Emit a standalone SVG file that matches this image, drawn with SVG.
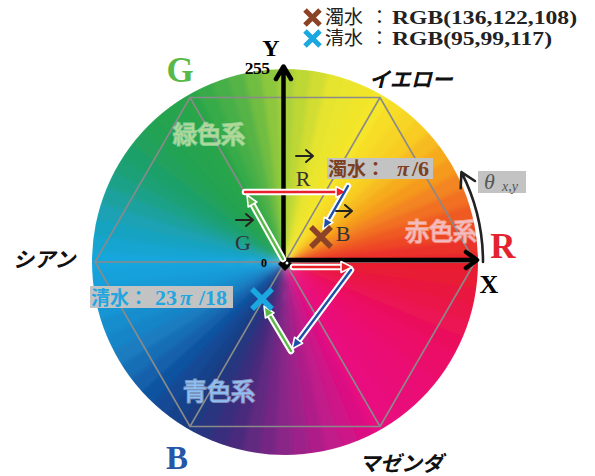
<svg xmlns="http://www.w3.org/2000/svg" xmlns:xlink="http://www.w3.org/1999/xlink" width="595" height="476" viewBox="0 0 595 476">
<style>
.hex{fill:none;stroke:#8a8a8a;stroke-width:1.6;stroke-linejoin:round}
.axis{fill:none;stroke:#000;stroke-width:4.5;stroke-linecap:round;stroke-linejoin:round}
.halo{fill:none;stroke:#fff;stroke-width:6.5;stroke-linecap:round;stroke-linejoin:round}
.shaft{fill:none;stroke-width:2.4;stroke-linecap:round}
.hw{stroke:#fff;stroke-width:1.6;stroke-linejoin:round}
.vec{fill:none;stroke:#222;stroke-width:2;stroke-linecap:round;stroke-linejoin:round}
.serif{font-family:"Liberation Serif","DejaVu Serif",serif}
.bold{font-weight:700}
.jp{font-family:"Noto Sans CJK JP","Noto Sans CJK SC",sans-serif}
.kana{font-family:"Noto Sans CJK JP",sans-serif;font-weight:700;font-style:italic;font-size:21px;fill:#111}
.region{font-family:"Noto Sans CJK JP",sans-serif;font-size:24px;stroke:#fff;stroke-opacity:.45;stroke-width:2;paint-order:stroke}
.box{fill:#c3c3c3}
</style>
<defs>
<path id="w" d="M285 262L481.8 271.6A197 197 0 0 0 481.8 252.4Z"/>
<clipPath id="disc"><circle cx="285" cy="262" r="193"/></clipPath>
<filter id="soft" x="-5%" y="-5%" width="110%" height="110%"><feGaussianBlur stdDeviation="2"/></filter>
</defs>
<g id="wheel" clip-path="url(#disc)">
<g filter="url(#soft)">
<use href="#w" transform="rotate(0 285 262)" fill="#e81e2c"/>
<use href="#w" transform="rotate(-5 285 262)" fill="#ea3229"/>
<use href="#w" transform="rotate(-10 285 262)" fill="#ed4627"/>
<use href="#w" transform="rotate(-15 285 262)" fill="#ef5a24"/>
<use href="#w" transform="rotate(-20 285 262)" fill="#f16f22"/>
<use href="#w" transform="rotate(-25 285 262)" fill="#f38520"/>
<use href="#w" transform="rotate(-30 285 262)" fill="#f59a1e"/>
<use href="#w" transform="rotate(-35 285 262)" fill="#f6ab1f"/>
<use href="#w" transform="rotate(-40 285 262)" fill="#f7bb21"/>
<use href="#w" transform="rotate(-45 285 262)" fill="#f8cc22"/>
<use href="#w" transform="rotate(-50 285 262)" fill="#f7d525"/>
<use href="#w" transform="rotate(-55 285 262)" fill="#f7dd28"/>
<use href="#w" transform="rotate(-60 285 262)" fill="#f6e62a"/>
<use href="#w" transform="rotate(-65 285 262)" fill="#f1e52b"/>
<use href="#w" transform="rotate(-70 285 262)" fill="#ebe52d"/>
<use href="#w" transform="rotate(-75 285 262)" fill="#e6e42e"/>
<use href="#w" transform="rotate(-80 285 262)" fill="#d1dd32"/>
<use href="#w" transform="rotate(-85 285 262)" fill="#bdd736"/>
<use href="#w" transform="rotate(-90 285 262)" fill="#a8d03a"/>
<use href="#w" transform="rotate(-95 285 262)" fill="#8dc73e"/>
<use href="#w" transform="rotate(-100 285 262)" fill="#71bd42"/>
<use href="#w" transform="rotate(-105 285 262)" fill="#56b446"/>
<use href="#w" transform="rotate(-110 285 262)" fill="#47af47"/>
<use href="#w" transform="rotate(-115 285 262)" fill="#39ab49"/>
<use href="#w" transform="rotate(-120 285 262)" fill="#2aa64a"/>
<use href="#w" transform="rotate(-125 285 262)" fill="#27a54d"/>
<use href="#w" transform="rotate(-130 285 262)" fill="#25a34f"/>
<use href="#w" transform="rotate(-135 285 262)" fill="#22a252"/>
<use href="#w" transform="rotate(-140 285 262)" fill="#21a15d"/>
<use href="#w" transform="rotate(-145 285 262)" fill="#1fa069"/>
<use href="#w" transform="rotate(-150 285 262)" fill="#1ea074"/>
<use href="#w" transform="rotate(-155 285 262)" fill="#1da189"/>
<use href="#w" transform="rotate(-160 285 262)" fill="#1ba19f"/>
<use href="#w" transform="rotate(-165 285 262)" fill="#1aa2b4"/>
<use href="#w" transform="rotate(-170 285 262)" fill="#19a3c2"/>
<use href="#w" transform="rotate(-175 285 262)" fill="#17a5d0"/>
<use href="#w" transform="rotate(-180 285 262)" fill="#16a6de"/>
<use href="#w" transform="rotate(-185 285 262)" fill="#17a1db"/>
<use href="#w" transform="rotate(-190 285 262)" fill="#179bd7"/>
<use href="#w" transform="rotate(-195 285 262)" fill="#1896d4"/>
<use href="#w" transform="rotate(-200 285 262)" fill="#198dcd"/>
<use href="#w" transform="rotate(-205 285 262)" fill="#1985c7"/>
<use href="#w" transform="rotate(-210 285 262)" fill="#1a7cc0"/>
<use href="#w" transform="rotate(-215 285 262)" fill="#176eb5"/>
<use href="#w" transform="rotate(-220 285 262)" fill="#1360ab"/>
<use href="#w" transform="rotate(-225 285 262)" fill="#1052a0"/>
<use href="#w" transform="rotate(-230 285 262)" fill="#144a95"/>
<use href="#w" transform="rotate(-235 285 262)" fill="#18428b"/>
<use href="#w" transform="rotate(-240 285 262)" fill="#1c3a80"/>
<use href="#w" transform="rotate(-245 285 262)" fill="#2b347f"/>
<use href="#w" transform="rotate(-250 285 262)" fill="#392f7d"/>
<use href="#w" transform="rotate(-255 285 262)" fill="#48297c"/>
<use href="#w" transform="rotate(-260 285 262)" fill="#5e2980"/>
<use href="#w" transform="rotate(-265 285 262)" fill="#742884"/>
<use href="#w" transform="rotate(-270 285 262)" fill="#8a2888"/>
<use href="#w" transform="rotate(-275 285 262)" fill="#9c2389"/>
<use href="#w" transform="rotate(-280 285 262)" fill="#ae1f89"/>
<use href="#w" transform="rotate(-285 285 262)" fill="#c01a8a"/>
<use href="#w" transform="rotate(-290 285 262)" fill="#cd1587"/>
<use href="#w" transform="rotate(-295 285 262)" fill="#db0f83"/>
<use href="#w" transform="rotate(-300 285 262)" fill="#e80a80"/>
<use href="#w" transform="rotate(-305 285 262)" fill="#e90a7d"/>
<use href="#w" transform="rotate(-310 285 262)" fill="#e90a79"/>
<use href="#w" transform="rotate(-315 285 262)" fill="#ea0a76"/>
<use href="#w" transform="rotate(-320 285 262)" fill="#eb0b71"/>
<use href="#w" transform="rotate(-325 285 262)" fill="#eb0d6b"/>
<use href="#w" transform="rotate(-330 285 262)" fill="#ec0e66"/>
<use href="#w" transform="rotate(-335 285 262)" fill="#eb115d"/>
<use href="#w" transform="rotate(-340 285 262)" fill="#eb1353"/>
<use href="#w" transform="rotate(-345 285 262)" fill="#ea164a"/>
<use href="#w" transform="rotate(-350 285 262)" fill="#e91940"/>
<use href="#w" transform="rotate(-355 285 262)" fill="#e91b36"/>
</g>
</g>
<g id="hexagon">
<polygon class="hex" points="475,262 380,97.5 190,97.5 95,262 190,426.5 380,426.5"/>
<path class="hex" d="M95 262H475M190 97.5L380 426.5M380 97.5L190 426.5"/>
</g>
<g id="region-labels">
<text id="midori" class="region" x="173" y="143" fill="#b2da94">緑色系</text>
<text id="aka" class="region" x="405" y="240" fill="#f2bcc4">赤色系</text>
<text id="ao" class="region" x="183" y="400" fill="#8cc0f4">青色系</text>
</g>
<g id="axes">
<path class="axis" d="M283.5 262V68M276 79L283.5 66.5L291 79"/>
<path class="axis" d="M283 260H475M466 252L477 260L466 268"/>
<polygon points="278,264 285,257 292,264 285,271" fill="#000"/>
<circle cx="287" cy="263" r="1.5" fill="#fff"/>
</g>
<g id="connectors">
<path class="halo" d="M283 259L252.5 204.5M245 192H336M348 186L328.5 219.8M293 267H341M351 270L298.6 340.2M291 351L269.7 315.4"/>
<path class="shaft" stroke="#5cb848" d="M283 259L252.5 204.5"/>
<polygon class="hw" fill="#5cb848" points="247,195 256.8,202 248.2,207"/>
<path class="shaft" stroke="#e8202a" d="M245 192H336"/>
<polygon class="hw" fill="#e8202a" points="347,192 336,186.5 336,197.5"/>
<path class="shaft" stroke="#1e4fa8" d="M348 186L328.5 219.8"/>
<polygon class="hw" fill="#1e4fa8" points="323,229.3 324.2,217.3 332.8,222.3"/>
<path class="shaft" stroke="#e8202a" d="M293 267H341"/>
<polygon class="hw" fill="#e8202a" points="352,267 341,261.5 341,272.5"/>
<path class="shaft" stroke="#1e4fa8" d="M351 270L298.6 340.2"/>
<polygon class="hw" fill="#1e4fa8" points="292,349 294.6,337.2 302.6,343.2"/>
<path class="shaft" stroke="#5cb848" d="M291 351L269.7 315.4"/>
<polygon class="hw" fill="#5cb848" points="264,306 274,312.9 265.4,318"/>
<path fill="none" stroke="#222" stroke-width="2.6" stroke-linecap="round" stroke-linejoin="round" d="M483 262A198 198 0 0 0 461.4 172.1M474.9 181L461.4 172.1L460.7 188.2"/>
</g>
<g id="vector-labels">
<path class="vec" d="M296 156H313M306 150L313 156L306 162"/>
<text class="serif" x="303" y="186" font-size="22" fill="#333" text-anchor="middle">R</text>
<path class="vec" d="M236 220H253M246 214L253 220L246 226"/>
<text class="serif" x="243" y="250" font-size="22" fill="#333" text-anchor="middle">G</text>
<path class="vec" d="M336 211H352M345 205L352 211L345 217"/>
<text class="serif" x="343" y="241" font-size="22" fill="#333" text-anchor="middle">B</text>
</g>
<g id="points">
<path stroke="#8b4226" stroke-width="5.5" d="M311 227L331 247M331 227L311 247"/>
<path stroke="#1ba8e0" stroke-width="5.5" d="M252 289L272 309M272 289L252 309"/>
</g>
<g id="axis-labels">
<text class="serif bold" x="271" y="56" font-size="24" text-anchor="middle">Y</text>
<text class="serif bold" x="257" y="74" font-size="17.5" text-anchor="middle" letter-spacing="-0.5">255</text>
<text class="serif bold" x="489" y="293" font-size="26" text-anchor="middle">X</text>
<text class="serif bold" x="264" y="267" font-size="12" text-anchor="middle">0</text>
<text class="serif bold" x="503" y="258" font-size="35" text-anchor="middle" fill="#e42330">R</text>
<text class="serif bold" x="180" y="82" font-size="35" text-anchor="middle" fill="#58b848">G</text>
<text class="serif bold" x="177" y="469" font-size="33" text-anchor="middle" fill="#2556a8">B</text>
</g>
<g id="hue-labels">
<text class="kana" x="369" y="87">イエロー</text>
<text class="kana" x="13" y="267">シアン</text>
<text class="kana" x="359" y="471">マゼンダ</text>
</g>
<g id="label-dakusui">
<rect class="box" x="327" y="158" width="106" height="21"/>
<text class="jp bold" x="328" y="176" font-size="19" fill="#7d3f22">濁水：</text>
<text class="serif bold" y="176" font-size="22" fill="#7d3f22"><tspan x="397" font-style="italic">π</tspan><tspan x="412">/6</tspan></text>
</g>
<g id="label-seisui">
<rect class="box" x="90" y="286" width="143" height="22"/>
<text class="jp bold" x="91" y="305" font-size="19" fill="#22a6e0">清水：</text>
<text class="serif bold" y="305" font-size="22" fill="#22a6e0"><tspan x="155">23</tspan><tspan x="180" font-style="italic">π</tspan><tspan x="199">/18</tspan></text>
</g>
<g id="label-theta">
<rect class="box" x="478" y="171" width="48" height="22"/>
<text class="serif" y="189" font-style="italic" fill="#555"><tspan x="484" font-size="22">θ</tspan><tspan x="502" y="191" font-size="14">x,y</tspan></text>
</g>
<g id="legend">
<path stroke="#8b4226" stroke-width="5" d="M305 10L320 25M320 10L305 25"/>
<path stroke="#1ba8e0" stroke-width="5" d="M305 31L320 46M320 31L305 46"/>
<text class="jp" font-size="19" fill="#222"><tspan x="325" y="24">濁水</tspan><tspan x="370" y="24">：</tspan><tspan x="325" y="45">清水</tspan><tspan x="370" y="45">：</tspan></text>
<text class="serif bold" font-size="19" fill="#222"><tspan x="392" y="24" textLength="185" lengthAdjust="spacingAndGlyphs">RGB(136,122,108)</tspan><tspan x="392" y="45" textLength="160" lengthAdjust="spacingAndGlyphs">RGB(95,99,117)</tspan></text>
</g>
</svg>
